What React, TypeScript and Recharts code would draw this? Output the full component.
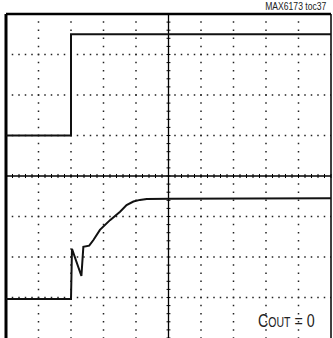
import { LineChart, Line, XAxis, YAxis, ReferenceLine } from "recharts";

// scope screen: 10 horizontal divisions, 8 vertical divisions
const gridX = [1, 2, 3, 4, 6, 7, 8, 9];
const gridY = [1, 2, 3, 5, 6, 7];
const minorX = Array.from({ length: 51 }, (_, i) => i * 0.2);
const minorY = Array.from({ length: 41 }, (_, i) => i * 0.2);

// top trace (input step)
const inputTrace = [
  { x: 0, y: 5.0 },
  { x: 2.0, y: 5.0 },
  { x: 2.0, y: 7.5 },
  { x: 10, y: 7.5 },
];

// bottom trace (output turn-on)
const outputTrace = [
  { x: 0, y: 0.96 },
  { x: 2.0, y: 0.96 },
  { x: 2.03, y: 2.2 },
  { x: 2.32, y: 1.53 },
  { x: 2.38, y: 2.25 },
  { x: 2.56, y: 2.28 },
  { x: 2.69, y: 2.42 },
  { x: 2.89, y: 2.67 },
  { x: 3.2, y: 2.91 },
  { x: 3.51, y: 3.12 },
  { x: 3.71, y: 3.28 },
  { x: 3.92, y: 3.37 },
  { x: 4.12, y: 3.41 },
  { x: 4.33, y: 3.43 },
  { x: 5.05, y: 3.44 },
  { x: 10, y: 3.45 },
];

const font = "'Liberation Sans', Arial, sans-serif";

export default function App() {
  return (
    <div style={{ position: "absolute", left: 0, top: 0, width: 333, height: 338, overflow: "hidden", background: "#fff" }}>
      <LineChart width={333} height={340} margin={{ top: 14, left: 6, right: 2, bottom: 2 }}>
        <XAxis type="number" dataKey="x" domain={[0, 10]} hide allowDataOverflow />
        <YAxis type="number" dataKey="y" domain={[0, 8]} hide allowDataOverflow />

        {/* dotted graticule */}
        {gridX.map((v) => (
          <ReferenceLine key={"gx" + v} x={v} stroke="#222" strokeWidth={1.5} strokeDasharray="1.5 6.6" strokeDashoffset={0.75} />
        ))}
        {gridY.map((v) => (
          <ReferenceLine key={"gy" + v} y={v} stroke="#222" strokeWidth={1.5} strokeDasharray="1.5 5" strokeDashoffset={0.75} />
        ))}

        {/* center axes with minor ticks */}
        <ReferenceLine x={5} stroke="#000" strokeWidth={1.3} />
        <ReferenceLine y={4} stroke="#000" strokeWidth={1.3} />
        {minorX.map((v) => (
          <ReferenceLine key={"mx" + v} segment={[{ x: v, y: 3.95 }, { x: v, y: 4.05 }]} stroke="#000" strokeWidth={1} />
        ))}
        {minorY.map((v) => (
          <ReferenceLine key={"my" + v} segment={[{ x: 4.94, y: v }, { x: 5.06, y: v }]} stroke="#000" strokeWidth={1} />
        ))}

        {/* frame */}
        <ReferenceLine x={0} stroke="#000" strokeWidth={3} />
        <ReferenceLine y={8} stroke="#000" strokeWidth={2.5} />
        <ReferenceLine x={10} stroke="#000" strokeWidth={1.5} />

        <Line data={inputTrace} dataKey="y" type="linear" stroke="#111" strokeWidth={2} dot={false} isAnimationActive={false} />
        <Line data={outputTrace} dataKey="y" type="linear" stroke="#111" strokeWidth={2} dot={false} isAnimationActive={false} />
      </LineChart>

      <div style={{ position: "absolute", right: 7, top: 0, fontFamily: font, fontSize: 11, lineHeight: "12px", color: "#222", whiteSpace: "nowrap", transform: "scaleX(0.78)", transformOrigin: "right top" }}>
        MAX6173 toc37
      </div>
      <div style={{ position: "absolute", left: 258, top: 310, fontFamily: font, fontSize: 19, lineHeight: "22px", color: "#222", whiteSpace: "nowrap", transform: "scaleX(0.75)", transformOrigin: "left top" }}>
        C<span style={{ fontSize: 14 }}>OUT</span> = 0
      </div>
    </div>
  );
}
